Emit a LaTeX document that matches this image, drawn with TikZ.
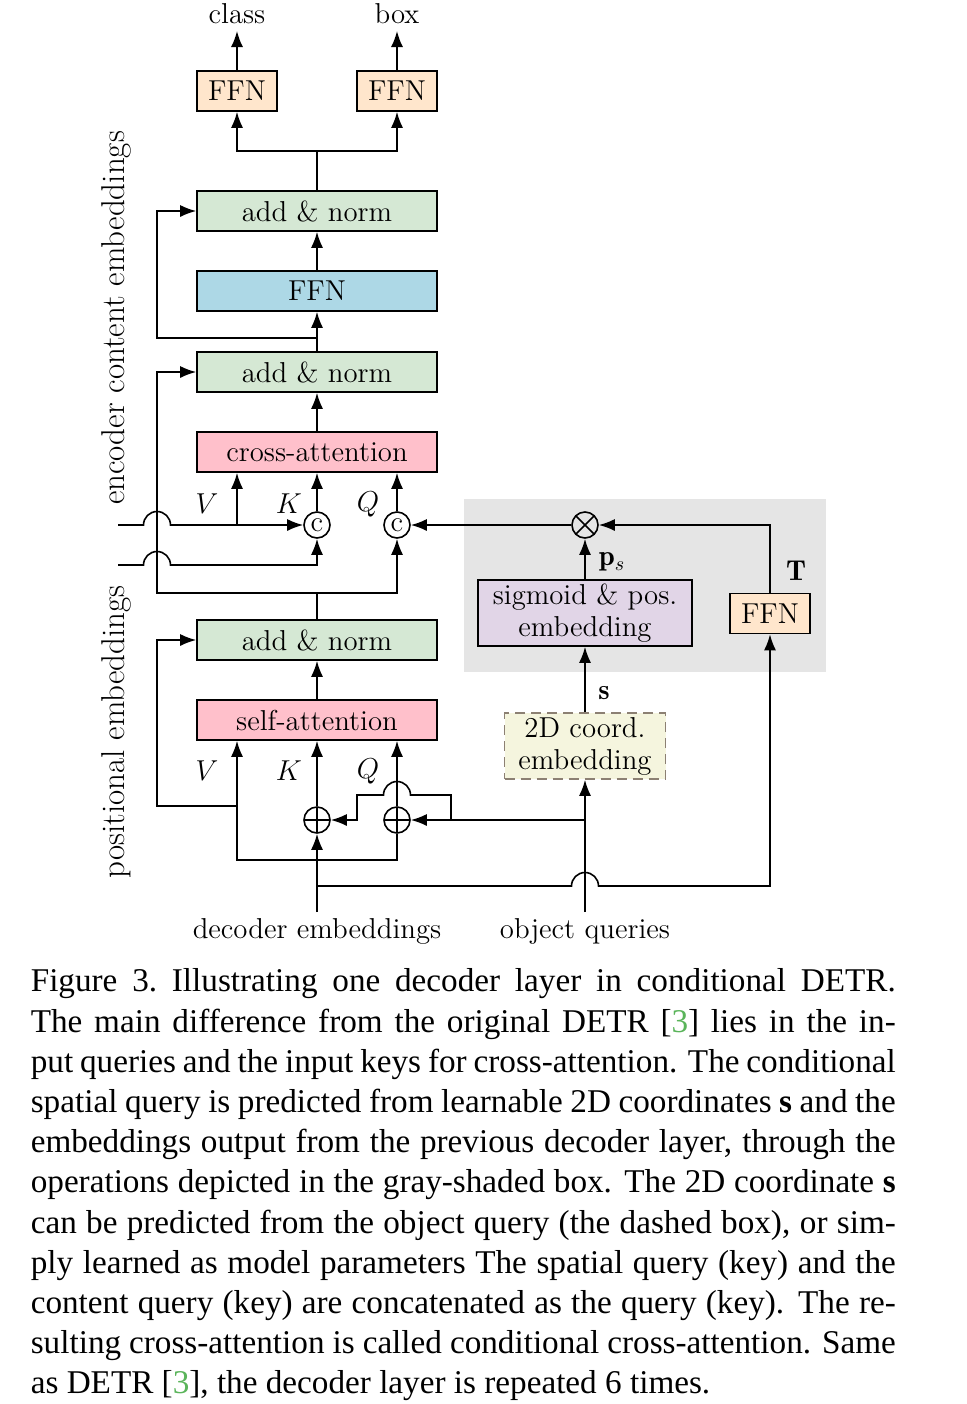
\documentclass[tikz,border=0pt]{standalone}
\usepackage{fontspec}
\usepackage{amsmath,amssymb}
\usetikzlibrary{arrows.meta}
\newfontfamily\capfont{Liberation Serif}
\newcommand{\diagfont}{\fontsize{14.4}{17}\selectfont}
\definecolor{ffnorange}{RGB}{255,230,204}
\definecolor{normgreen}{RGB}{213,232,212}
\definecolor{ffnblue}{RGB}{173,216,230}
\definecolor{attnpink}{RGB}{255,192,203}
\definecolor{sigpurple}{RGB}{225,213,231}
\definecolor{coordbeige}{RGB}{245,245,222}
\definecolor{dashgray}{RGB}{140,128,115}
\definecolor{citegreen}{RGB}{90,180,90}

\begin{document}
\begin{tikzpicture}[x=0.5pt, y=0.5pt, font=\diagfont, line width=0.8pt,
		>={Latex[length=8pt,width=6pt]},
		layer/.style={draw, minimum width=120pt, minimum height=20pt, inner sep=0pt},
		head/.style={draw, fill=ffnorange, minimum width=40pt, minimum height=20pt, inner sep=0pt},
		twoline/.style={draw, align=center, minimum height=33pt, inner sep=0pt, font=\fontsize{14.4}{16}\selectfont},
		op/.style={draw, circle, minimum size=13pt, inner sep=0pt},
		plusop/.style={op, path picture={\draw (path picture bounding box.north) -- (path picture bounding box.south) (path picture bounding box.west) -- (path picture bounding box.east);}},
		mulop/.style={op, path picture={\draw (path picture bounding box.north west) -- (path picture bounding box.south east) (path picture bounding box.north east) -- (path picture bounding box.south west);}},
		sidelbl/.style={rotate=90, font=\fontsize{16.5}{19}\selectfont}]
			\useasboundingbox (0,0) rectangle (966,-1404);
			\fill[black!10] (464,-499) rectangle (826,-672);
			% output heads
			\node (clsout) [anchor=south, inner sep=3pt] at (237,-31) {class};
			\node (boxout) [anchor=south, inner sep=3pt] at (397,-31) {box};
			\node[head] (ffncls) at (237,-91) {FFN};
			\node[head] (ffnbox) at (397,-91) {FFN};
			% decoder layer
			\node[layer, fill=normgreen] (an3) at (317,-211) {add \& norm};
			\node[layer, fill=ffnblue] (ffn) at (317,-291) {FFN};
			\node[layer, fill=normgreen] (an2) at (317,-372) {add \& norm};
			\node[layer, fill=attnpink] (ca) at (317,-452) {cross-attention};
			\node[op] (ck) at (317,-525) {c};
			\node[op] (cq) at (397,-525) {c};
			\node[layer, fill=normgreen] (an1) at (317,-640) {add \& norm};
			\node[layer, fill=attnpink] (sa) at (317,-720) {self-attention};
			\node[plusop] (pk) at (317,-820) {};
			\node[plusop] (pq) at (397,-820) {};
			% spatial query
			\node[mulop] (mul) at (585,-525) {};
			\node[twoline, fill=sigpurple, minimum width=107pt] (sig) at (585,-613) {sigmoid \& pos.\\embedding};
			\node[head] (ffnT) at (770,-613.5) {FFN};
			\node[twoline, fill=coordbeige, draw=dashgray, dash pattern=on 5pt off 3pt, minimum width=80.5pt] (coord) at (585,-746) {2D coord.\\embedding};
			\node (decin) [anchor=north, inner sep=3pt] at (317,-912) {decoder embeddings};
			\node (objin) [anchor=north, inner sep=3pt] at (585,-912) {object queries};
			% labels
			\node (lv1) at (207,-504) {$V$};
			\node (lk1) at (289,-504) {$K$};
			\node (lq1) at (368,-504) {$Q$};
			\node (lv0) at (207,-771) {$V$};
			\node (lk0) at (289,-771) {$K$};
			\node (lq0) at (368,-771) {$Q$};
			\node (lps) at (612,-562) {$\mathbf{p}_s$};
			\node (ls) at (604,-693) {$\mathbf{s}$};
			\node (lT) at (796,-571) {$\mathbf{T}$};
			\node[sidelbl] (enclbl) at (116,-318) {encoder content embeddings};
			\node[sidelbl] (poslbl) at (116,-732) {positional embeddings};
			% junctions
			\coordinate (split3) at (317,-151);
			\coordinate (res2) at (317,-338);
			\coordinate (res1) at (317,-593);
			\coordinate (res0) at (237,-806);
			\coordinate (kin) at (118,-525);
			\coordinate (kin2) at (118,-565);
			\coordinate (vsplit) at (237,-525);
			\coordinate (qsplit) at (585,-820);
			\coordinate (qb) at (451,-820);
			\coordinate (dsplit) at (317,-860);
			\coordinate (vlow) at (237,-860);
			\coordinate (tsplit) at (317,-886);
			% connectors
			\draw[->] (ffncls) -- (clsout);
			\draw[->] (ffnbox) -- (boxout);
			\draw[->] (an3) -- (split3) -| (ffncls);
			\draw[->] (split3) -| (ffnbox);
			\draw[->] (ffn) -- (an3);
			\draw[->] (an2) -- (ffn);
			\draw[->] (res2) -- ++(-160,0) |- (an3);
			\draw[->] (ca) -- (an2);
			\draw[->] (ck) -- (ca);
			\draw[->] (cq) -- (cq |- ca.south);
			\draw[->] (kin) -- ++(25.5,0) arc[start angle=180, end angle=0, radius=6.75pt] -- (ck);
			\draw[->] (vsplit) -- (vsplit |- ca.south);
			\draw[->] (kin2) -- ++(25.5,0) arc[start angle=180, end angle=0, radius=6.75pt] -| (ck);
			\draw (an1) -- (res1);
			\draw[->] (res1) -| (cq);
			\draw[->] (res1) -- ++(-160,0) |- (an2);
			\draw[->] (mul) -- (cq);
			\draw[->] (ffnT) |- (mul);
			\draw[->] (sig) -- (mul);
			\draw[->] (coord) -- (sig);
			\draw[->] (objin) -- (coord);
			\draw[->] (qsplit) -- (pq);
			\draw[->] (qb) -- ++(0,25) -- ++(-40.5,0) arc[start angle=0, end angle=180, radius=6.75pt] -- ++(-26.5,0) |- (pk);
			\draw[->] (decin) -- (pk);
			\draw[->] (pk) -- (sa);
			\draw[->] (pq) -- (pq |- sa.south);
			\draw (dsplit) -| (pq);
			\draw[->] (dsplit) -- (vlow) -- (vlow |- sa.south);
			\draw[->] (res0) -- ++(-80,0) |- (an1);
			\draw[->] (sa) -- (an1);
			\draw[->] (tsplit) -- ++(254.5,0) arc[start angle=180, end angle=0, radius=6.75pt] -| (ffnT);
			% caption
			\node[anchor=north west, inner sep=0pt, text width=432.5pt, align=justify, font=\capfont\fontsize{16.6}{20.1}\selectfont] (caption) at (30,-968) {Figure 3.\ Illustrating one decoder layer in conditional DETR.\linebreak
				The main difference from the original DETR [\textcolor{citegreen}{3}] lies in the in-\linebreak
				put queries and the input keys for cross-attention. The conditional\linebreak
				spatial query is predicted from learnable 2D coordinates \textbf{s} and the\linebreak
				embeddings output from the previous decoder layer, through the\linebreak
				operations depicted in the gray-shaded box. The 2D coordinate \textbf{s}\linebreak
				can be predicted from the object query (the dashed box), or sim-\linebreak
				ply learned as model parameters The spatial query (key) and the\linebreak
				content query (key) are concatenated as the query (key). The re-\linebreak
				sulting cross-attention is called conditional cross-attention. Same\linebreak
				as DETR [\textcolor{citegreen}{3}], the decoder layer is repeated 6 times.};
		\end{tikzpicture}
\end{document}
